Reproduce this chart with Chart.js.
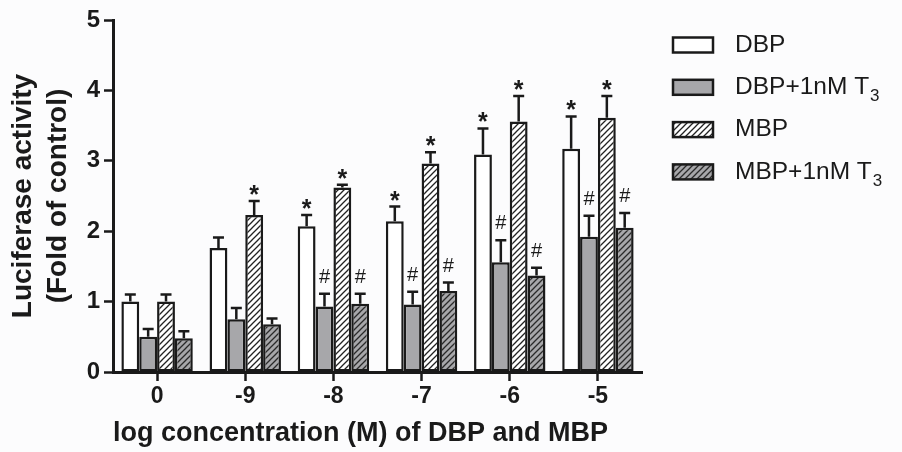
<!DOCTYPE html>
<html>
<head>
<meta charset="utf-8">
<script src="https://cdn.jsdelivr.net/npm/chart.js@4.4.1/dist/chart.umd.min.js"></script>
<style>
  html, body { margin: 0; padding: 0; background: #fcfcfd; }
  #wrap { width: 902px; height: 452px; }
</style>
</head>
<body>
<div id="wrap"><canvas id="lucChart" width="902" height="452"></canvas></div>
<script>
// data
const categories = ['0', '-9', '-8', '-7', '-6', '-5'];
const yTicks = [0, 1, 2, 3, 4, 5];

const seriesNames = ['DBP', 'DBP+1nM T', 'MBP', 'MBP+1nM T'];
const seriesSubs = ['', '3', '', '3'];

const dbp = [1.0, 1.76, 2.07, 2.14, 3.09, 3.17];
const dbpErr = [0.1, 0.15, 0.16, 0.21, 0.37, 0.46];
const dbpT3 = [0.5, 0.75, 0.93, 0.96, 1.56, 1.92];
const dbpT3Err = [0.11, 0.16, 0.18, 0.18, 0.31, 0.3];
const mbp = [1.0, 2.23, 2.62, 2.96, 3.56, 3.61];
const mbpErr = [0.1, 0.2, 0.04, 0.16, 0.36, 0.31];
const mbpT3 = [0.48, 0.68, 0.97, 1.15, 1.37, 2.05];
const mbpT3Err = [0.1, 0.08, 0.14, 0.12, 0.11, 0.21];

// significance marks
const dbpMarks = ['', '', '*', '*', '*', '*'];
const dbpT3Marks = ['', '', '#', '#', '#', '#'];
const mbpMarks = ['', '*', '*', '*', '*', '*'];
const mbpT3Marks = ['', '', '#', '#', '#', '#'];

const FONT = '"Liberation Sans", Arial, sans-serif';
const INK = '#1a1a1a';
const GRAY = '#a7a7aa';

function hatch(bg, fg) {
  const s = 6;
  const c = document.createElement('canvas');
  c.width = s; c.height = s;
  const g = c.getContext('2d');
  g.fillStyle = bg;
  g.fillRect(0, 0, s, s);
  g.strokeStyle = fg;
  g.lineWidth = 1.3;
  g.beginPath();
  g.moveTo(-1, s + 1); g.lineTo(s + 1, -1);
  g.moveTo(-1, 1); g.lineTo(1, -1);
  g.moveTo(s - 1, s + 1); g.lineTo(s + 1, s - 1);
  g.stroke();
  return g.createPattern(c, 'repeat');
}

const fills = ['#ffffff', GRAY, hatch('#ffffff', '#222'), hatch(GRAY, '#2a2a2a')];

// error bars + significance marks
const errorBars = {
  id: 'errorBars',
  afterDatasetsDraw(chart) {
    const { ctx, scales: { y } } = chart;
    ctx.save();
    chart.data.datasets.forEach((ds, i) => {
      const meta = chart.getDatasetMeta(i);
      meta.data.forEach((bar, j) => {
        const top = y.getPixelForValue(ds.data[j] + ds.errors[j]);
        ctx.strokeStyle = INK;
        ctx.lineWidth = 2.5;
        ctx.beginPath();
        ctx.moveTo(bar.x, bar.y);
        ctx.lineTo(bar.x, top);
        ctx.moveTo(bar.x - 5.5, top);
        ctx.lineTo(bar.x + 5.5, top);
        ctx.stroke();
        const m = ds.marks[j];
        ctx.fillStyle = INK;
        ctx.textAlign = 'center';
        ctx.textBaseline = 'alphabetic';
        if (m === '*') {
          ctx.font = 'bold 25px ' + FONT;
          ctx.fillText('*', bar.x, top + 2);
        } else if (m === '#') {
          ctx.font = '20px ' + FONT;
          ctx.fillText('#', bar.x, top - 11);
        }
      });
    });
    ctx.restore();
  }
};

// legend on the right
const sideLegend = {
  id: 'sideLegend',
  afterDraw(chart) {
    const { ctx, chartArea } = chart;
    const bx = chartArea.right + 31;
    ctx.save();
    chart.data.datasets.forEach((ds, i) => {
      const cy = chartArea.top + 25 + i * 42.3;
      ctx.fillStyle = ds.backgroundColor;
      ctx.fillRect(bx, cy - 7.5, 40, 15);
      ctx.strokeStyle = INK;
      ctx.lineWidth = 2.5;
      ctx.strokeRect(bx, cy - 7.5, 40, 15);
      ctx.fillStyle = INK;
      ctx.textAlign = 'left';
      ctx.textBaseline = 'middle';
      ctx.font = '24.5px ' + FONT;
      const tx = bx + 62;
      ctx.fillText(seriesNames[i], tx, cy);
      if (seriesSubs[i]) {
        const w = ctx.measureText(seriesNames[i]).width;
        ctx.font = '17px ' + FONT;
        ctx.fillText(seriesSubs[i], tx + w + 1, cy + 9);
      }
    });
    ctx.restore();
  }
};

const seriesData = [dbp, dbpT3, mbp, mbpT3];
const seriesErr = [dbpErr, dbpT3Err, mbpErr, mbpT3Err];
const seriesMarks = [dbpMarks, dbpT3Marks, mbpMarks, mbpT3Marks];

const ctx = document.getElementById('lucChart').getContext('2d');

new Chart(ctx, {
  type: 'bar',
  data: {
    labels: categories,
    datasets: seriesData.map((d, i) => ({
      label: seriesNames[i] + seriesSubs[i],
      data: d,
      errors: seriesErr[i],
      marks: seriesMarks[i],
      backgroundColor: fills[i],
      borderColor: INK,
      borderWidth: 2.5,
      borderSkipped: false,
      categoryPercentage: 0.81,
      barPercentage: 1.0
    }))
  },
  options: {
    responsive: false,
    animation: false,
    devicePixelRatio: 1,
    layout: { padding: { left: 5, right: 260, top: 20, bottom: 2 } },
    plugins: {
      legend: { display: false },
      tooltip: { enabled: false }
    },
    scales: {
      x: {
        grid: {
          offset: false,
          drawOnChartArea: false,
          tickLength: 9,
          tickColor: INK,
          tickWidth: 2.5
        },
        border: { color: INK, width: 3 },
        ticks: {
          color: INK,
          padding: 2,
          font: { family: FONT, size: 23, weight: 'bold' }
        },
        title: {
          display: true,
          align: 'start',
          text: 'log concentration (M) of DBP and MBP',
          color: INK,
          padding: { top: 2, bottom: 0 },
          font: { family: FONT, size: 27, weight: 'bold' }
        },
        afterFit(scale) { scale.height = 78; }
      },
      y: {
        min: 0,
        max: 5,
        afterBuildTicks(scale) { scale.ticks = yTicks.map(v => ({ value: v })); },
        grid: {
          drawOnChartArea: false,
          tickLength: 9,
          tickColor: INK,
          tickWidth: 2.5
        },
        border: { color: INK, width: 3 },
        ticks: {
          color: INK,
          padding: 4,
          font: { family: FONT, size: 24, weight: 'bold' }
        },
        title: {
          display: true,
          text: ['Luciferase activity', '(Fold of control)'],
          color: INK,
          padding: { top: 0, bottom: 0 },
          font: { family: FONT, size: 28, weight: 'bold', lineHeight: 1.28 }
        },
        afterFit(scale) { scale.width = 108; }
      }
    }
  },
  plugins: [errorBars, sideLegend]
});
</script>
</body>
</html>
